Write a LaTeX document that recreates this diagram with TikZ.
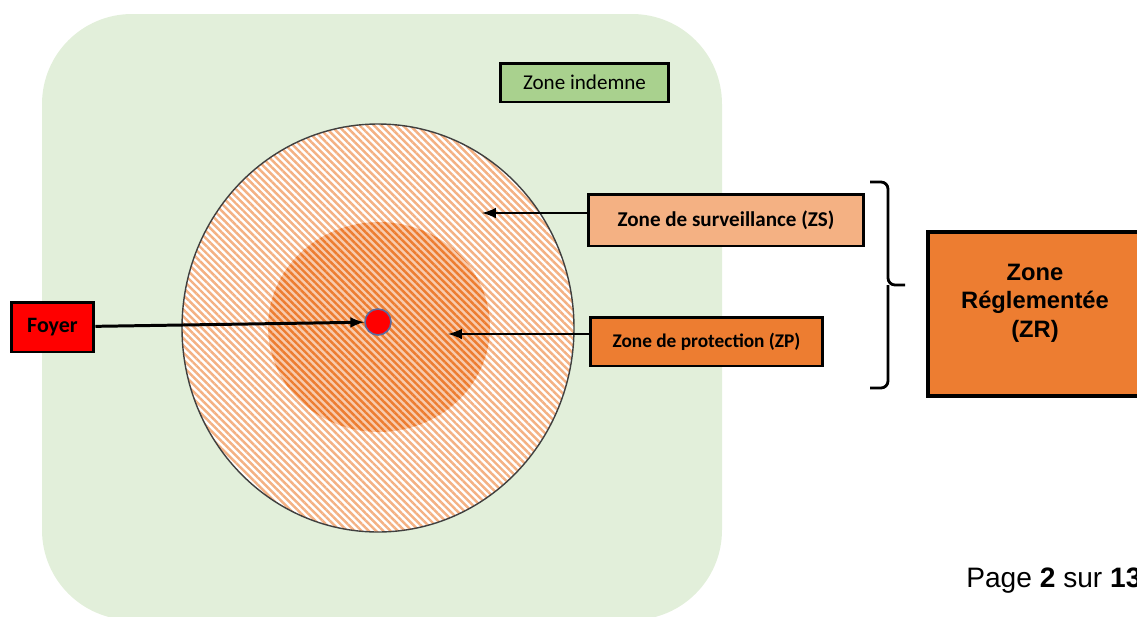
\documentclass[tikz,border=0pt]{standalone}
\usepackage{fontspec}
\setmainfont{Liberation Sans}
\newfontfamily\calibri{Carlito}
\usepackage{tikz}
\usetikzlibrary{arrows,patterns.meta}
\definecolor{zoneindemne}{HTML}{E2EFDA}
\definecolor{boxindemne}{HTML}{A9D18E}
\definecolor{orangeclair}{HTML}{F4B183}
\definecolor{orangepale}{HTML}{F8CBAD}
\definecolor{orangefonce}{HTML}{ED7D31}
\definecolor{bordfoyer}{HTML}{5B6A9C}

\begin{document}
\begin{tikzpicture}[
            x=0.02cm, y=-0.02cm,% 1 unit = 1 pixel, y going down
                Z/.style = {rectangle, draw, line width=1.7pt,% boxes with labels
                            inner sep=0pt, align=center,
                            font=\calibri\bfseries\fontsize{12}{14}\selectfont},
                F/.style = {-latex, line width=1.7pt},% arrows to the zones
                H/.style = {pattern={Lines[angle=-45, distance=2.9pt,
                            line width=1.4pt]}, #1},% hatching of the zones
                ]
    \useasboundingbox (0,0) rectangle (1137,616);
    \clip (0,0) rectangle (1137,616);
    % background
    \fill[zoneindemne, rounded corners=1.8cm] (42,14) rectangle (722,620);
    % zones
    \path[H={pattern color=orangeclair}, preaction={fill=white}]
        (378,328) ellipse [x radius=196, y radius=204];
    \path[H={pattern color=orangefonce}, preaction={fill=orangepale}]
        (379,327) ellipse [x radius=111, y radius=105];
    \draw[line width=0.8pt, black!75] (378,328) ellipse [x radius=196, y radius=204];
    \node[circle, fill=red, draw=bordfoyer, line width=0.9pt,
          minimum size=0.52cm, inner sep=0pt] (foyerpt) at (378,322) {};
    % labels
    \node[Z, fill=boxindemne, minimum width=3.38cm, minimum height=0.78cm,
          font=\calibri\fontsize{12}{14}\selectfont] (indemne) at (584.5,82.5) {Zone indemne};
    \node[Z, fill=orangeclair, minimum width=5.52cm, minimum height=1.04cm] (zs) at (726,220)
        {Zone de surveillance (ZS)};
    \node[Z, fill=orangefonce, minimum width=4.66cm, minimum height=0.98cm,
          font=\calibri\bfseries\fontsize{11}{13}\selectfont] (zp) at (706.5,341.5)
        {Zone de protection (ZP)};
    \node[Z, fill=red, minimum width=1.66cm, minimum height=1cm,
          font=\calibri\bfseries\fontsize{12.5}{14}\selectfont] (foyer) at (52.5,327) {Foyer};
    \node[Z, fill=orangefonce, line width=2.8pt, minimum width=4.28cm, minimum height=3.28cm,
          text depth=15pt,% lifts the text a little above the middle
          font=\bfseries\fontsize{13.5}{16}\selectfont] (zr) at (1035,314)
        {Zone\\R\'eglement\'ee\\(ZR)};
    \coordinate (zsend) at (482,213);
    \coordinate (zpend) at (448,334);
    \draw[F] (foyer) -- (foyerpt);
    \draw[F] (zs.west |- zsend) -- (zsend);
    \draw[F] (zp.west |- zpend) -- (zpend);
    % brace
    \draw[line width=1.6pt, rounded corners=4pt] (870,182) -| (888,285) -- (905,285);
    \draw[line width=1.6pt, rounded corners=4pt] (870,388) -| (888,285);
    \node[anchor=base west, inner sep=0pt, font=\fontsize{16}{19}\selectfont] (page)
        at (966,587) {Page \textbf{2} sur \textbf{13}};
\end{tikzpicture}
\end{document}
